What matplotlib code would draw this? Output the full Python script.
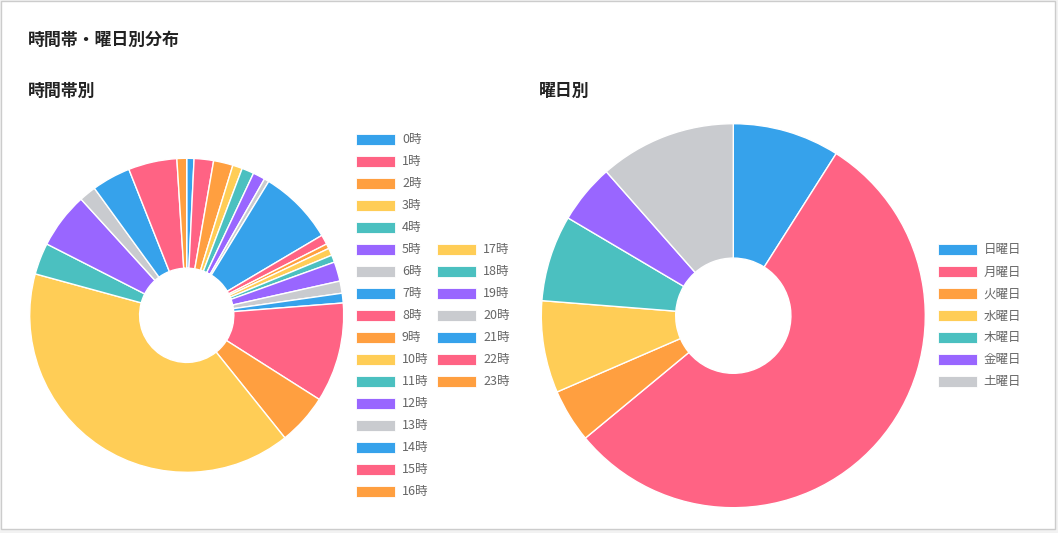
import matplotlib
matplotlib.use('Agg')
import matplotlib.pyplot as plt
from matplotlib.patches import Rectangle

plt.rcParams['font.family'] = ['Noto Sans CJK JP', 'DejaVu Sans']

# データ
hour_labels = [f'{h}時' for h in range(24)]
hour_counts = [3, 8, 8, 4, 5, 5, 2, 31, 4, 2, 3, 3, 8, 5, 4, 41, 21, 160, 13, 23, 7, 16, 20, 4]

week_labels = ['日曜日', '月曜日', '火曜日', '水曜日', '木曜日', '金曜日', '土曜日']
week_counts = [36, 220, 18, 31, 29, 20, 46]

palette = ['#36A2EB', '#FF6384', '#FF9F40', '#FFCD56', '#4BC0C0', '#9966FF', '#C9CBCF']
hour_colors = [palette[i % 7] for i in range(len(hour_counts))]
week_colors = [palette[i % 7] for i in range(len(week_counts))]

W, H = 1058, 533
fig = plt.figure(figsize=(W / 100, H / 100), dpi=100)
fig.patch.set_facecolor('#f2f2f2')

# 背景用の全体軸（ピクセル座標）
bg = fig.add_axes([0, 0, 1, 1])
bg.set_xlim(0, W)
bg.set_ylim(H, 0)
bg.axis('off')
bg.add_patch(Rectangle((1, 1), 1054, 528, facecolor='white', edgecolor='#cccccc', linewidth=1))

bg.text(28, 40, '時間帯・曜日別分布', fontsize=12.2, fontweight='bold', color='#222222', va='center', ha='left')
bg.text(28, 91, '時間帯別', fontsize=12.2, fontweight='bold', color='#222222', va='center', ha='left')
bg.text(539, 91, '曜日別', fontsize=12.2, fontweight='bold', color='#222222', va='center', ha='left')


def donut(cx, cy, r, values, colors):
    pad = 1.02
    ax = fig.add_axes([(cx - r * pad) / W, 1 - (cy + r * pad) / H, 2 * r * pad / W, 2 * r * pad / H])
    wedges, _ = ax.pie(values, colors=colors, startangle=90, counterclock=False, radius=1,
                       wedgeprops=dict(width=0.7, edgecolor='white', linewidth=1))
    ax.set_xlim(-pad, pad)
    ax.set_ylim(-pad, pad)
    ax.set_aspect('equal')
    ax.axis('off')
    return wedges


def legend_col(x, y_center, labels, colors, step=22):
    n = len(labels)
    y0 = y_center - (n - 1) * step / 2
    for i, (lab, col) in enumerate(zip(labels, colors)):
        y = y0 + i * step
        bg.add_patch(Rectangle((x, y - 5.5), 39, 11, facecolor=col, edgecolor='white', linewidth=0.6))
        bg.text(x + 46, y + 0.5, lab, fontsize=9, color='#666666', va='center', ha='left')


donut(186.7, 315.3, 157, hour_counts, hour_colors)
donut(733.3, 315.7, 192, week_counts, week_colors)

legend_col(356, 315.5, hour_labels[:17], hour_colors[:17])
legend_col(437, 315.5, hour_labels[17:], hour_colors[17:])
legend_col(937.5, 315.5, week_labels, week_colors)

plt.savefig('out.png', dpi=100, facecolor=fig.get_facecolor())
